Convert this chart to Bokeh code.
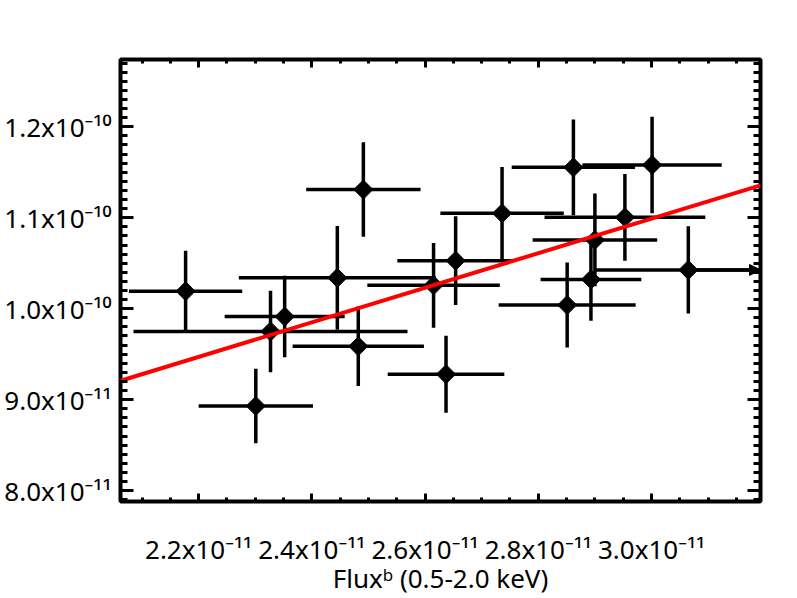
import numpy as np
from bokeh.plotting import figure
from bokeh.models import (Range1d, LinearAxis, FixedTicker, CustomJSTickFormatter,
                          ColumnDataSource, Arrow, NormalHead)
from bokeh.embed import file_html
from bokeh.resources import INLINE

# ---- data (all fluxes in units of 1e-11) ----
flux_x = [2.177, 2.301, 2.327, 2.352, 2.445, 2.482, 2.491, 2.615, 2.637,
          2.654, 2.736, 2.851, 2.862, 2.893, 2.900, 2.953, 3.001, 3.065]
flux_x_err = [0.100, 0.101, 0.242, 0.106, 0.174, 0.116, 0.101, 0.117, 0.103,
              0.103, 0.109, 0.121, 0.109, 0.089, 0.110, 0.142, 0.123, 0.163]
flux_y = [10.192, 8.930, 9.750, 9.913, 10.339, 9.587, 11.310, 10.257, 9.280,
          10.528, 11.049, 10.040, 11.554, 10.322, 10.756, 11.005, 11.580, 10.426]
flux_y_err = [0.445, 0.410, 0.448, 0.448, 0.570, 0.436, 0.520, 0.466, 0.423,
              0.488, 0.510, 0.467, 0.527, 0.455, 0.510, 0.477, 0.530, 0.480]

fit_slope = 1.90
fit_intercept = 5.29

x_major = [2.2, 2.4, 2.6, 2.8, 3.0]
x_tick_labels = ["2.2x10\u207b\u00b9\u00b9", "2.4x10\u207b\u00b9\u00b9",
                 "2.6x10\u207b\u00b9\u00b9", "2.8x10\u207b\u00b9\u00b9",
                 "3.0x10\u207b\u00b9\u00b9"]
y_major = [8.0, 9.0, 10.0, 11.0, 12.0]
y_tick_labels = ["8.0x10\u207b\u00b9\u00b9", "9.0x10\u207b\u00b9\u00b9",
                 "1.0x10\u207b\u00b9\u2070", "1.1x10\u207b\u00b9\u2070",
                 "1.2x10\u207b\u00b9\u2070"]
x_title = "Flux\u1d47 (0.5-2.0 keV)"

X_MIN, X_MAX = 2.062, 3.1925
Y_MIN, Y_MAX = 7.88, 12.74

FONT = "Noto Sans"

p = figure(width=797, height=598, output_backend="svg", toolbar_location=None,
           x_range=Range1d(X_MIN, X_MAX), y_range=Range1d(Y_MIN, Y_MAX),
           min_border_left=120, min_border_right=37, min_border_top=59,
           min_border_bottom=91, background_fill_color="white",
           border_fill_color="white", outline_line_color="black",
           outline_line_width=4)
p.grid.visible = False

top_axis = LinearAxis()
right_axis = LinearAxis()
p.add_layout(top_axis, "above")
p.add_layout(right_axis, "right")
bottom_axis = p.below[0]
left_axis = p.left[0]

x_minor = [float(v) for v in np.round(np.arange(2.10, 3.1501, 0.05), 3)]
y_minor = [float(v) for v in np.round(np.arange(7.9, 12.7001, 0.1), 3)]

for ax in (bottom_axis, top_axis):
    ax.ticker = FixedTicker(ticks=x_major, minor_ticks=x_minor)
    ax.major_tick_in = 8
    ax.minor_tick_in = 4
for ax in (left_axis, right_axis):
    ax.ticker = FixedTicker(ticks=y_major, minor_ticks=y_minor)
    ax.major_tick_in = 13
    ax.minor_tick_in = 7
for ax in (bottom_axis, top_axis, left_axis, right_axis):
    ax.axis_line_color = None
    ax.major_tick_out = 0
    ax.minor_tick_out = 0
    ax.major_tick_line_width = 3
    ax.minor_tick_line_width = 3
    ax.major_tick_line_color = "black"
    ax.minor_tick_line_color = "black"
    ax.major_label_text_font = FONT
    ax.major_label_text_color = "black"
    ax.major_label_text_font_size = "26px"
for ax in (top_axis, right_axis):
    ax.formatter = CustomJSTickFormatter(code="return ''")
    ax.major_label_text_font_size = "1px"
    ax.major_label_standoff = 0

bottom_axis.major_label_overrides = dict(zip(x_major, x_tick_labels))
bottom_axis.major_label_standoff = 29
bottom_axis.axis_label = x_title
bottom_axis.axis_label_text_font = FONT
bottom_axis.axis_label_text_font_size = "26px"
bottom_axis.axis_label_text_font_style = "normal"
bottom_axis.axis_label_text_color = "black"
bottom_axis.axis_label_standoff = -10

left_axis.major_label_overrides = dict(zip(y_major, y_tick_labels))
left_axis.major_label_standoff = 9

# ---- error bars ----
x = np.array(flux_x)
xe = np.array(flux_x_err)
y = np.array(flux_y)
ye = np.array(flux_y_err)
src = ColumnDataSource(dict(x=x, y=y, x0=x - xe, x1=x + xe, y0=y - ye, y1=y + ye))
p.segment(x0="x0", y0="y", x1="x1", y1="y", source=src, line_color="black", line_width=3.5)
p.segment(x0="x", y0="y0", x1="x", y1="y1", source=src, line_color="black", line_width=3.5)

# arrow where the error bar runs off the right edge
clip = (x + xe) > X_MAX
asrc = ColumnDataSource(dict(xs=x[clip], y=y[clip], xe=np.full(int(clip.sum()), X_MAX)))
p.add_layout(Arrow(end=NormalHead(size=11, fill_color="black", line_color="black"),
                   x_start="xs", y_start="y", x_end="xe", y_end="y", source=asrc,
                   line_color="black", line_width=3.5))

p.scatter(x="x", y="y", source=src, marker="square", angle=np.pi / 4, size=13.5,
          fill_color="black", line_color="black")

# ---- fit line ----
fx = np.array([X_MIN, X_MAX])
p.line(fx, fit_intercept + fit_slope * fx, line_color="#ff0000", line_width=4)

open("out.html", "w").write(file_html(p, INLINE))
